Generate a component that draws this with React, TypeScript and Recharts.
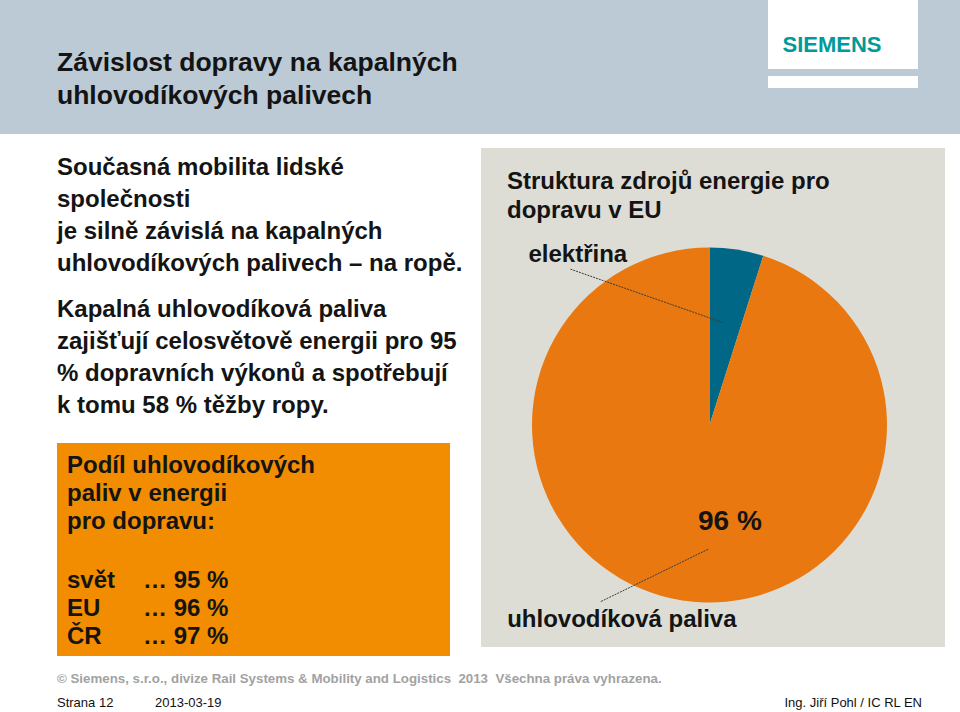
import { PieChart, Pie, Cell } from 'recharts';

// ---------------------------------------------------------------------------
// Data
// ---------------------------------------------------------------------------

const SOURCES = ['elektřina', 'uhlovodíková paliva'];
const SHARES = [4.9, 95.1];
const SHARE_LABEL = '96 %';
const COLORS = ['#006787', '#e8780f'];

const pieData = SOURCES.map((name, i) => ({ name, value: SHARES[i] }));

const REGIONS = ['svět', 'EU', 'ČR'];
const REGION_SHARES = ['95 %', '96 %', '97 %'];

const FONT = '"Liberation Sans", Arial, sans-serif';
const INK = '#141414';

// ---------------------------------------------------------------------------
// Pie labels (placed relative to the pie geometry)
// ---------------------------------------------------------------------------

const RAD = Math.PI / 180;

interface LabelProps {
  cx: number;
  cy: number;
  midAngle: number;
  outerRadius: number;
  index: number;
  name: string;
}

function SliceLabel({ cx, cy, midAngle, outerRadius: r, index, name }: LabelProps) {
  const lineStyle = { stroke: '#3a3a3a', strokeWidth: 1, strokeDasharray: '2 1' };
  const textStyle = { fontFamily: FONT, fontWeight: 700, fontSize: 24, fill: INK };
  if (index === 0) {
    const ix = cx + 0.585 * r * Math.cos(midAngle * RAD);
    const iy = cy - 0.585 * r * Math.sin(midAngle * RAD);
    return (
      <g>
        <line x1={ix - 3} y1={iy} x2={cx - 0.786 * r} y2={cy - 0.879 * r} style={lineStyle} />
        <text x={cx - 1.02 * r} y={cy - 0.92 * r} textAnchor="start" style={textStyle}>
          {name}
        </text>
      </g>
    );
  }
  return (
    <g>
      <text x={cx + 0.115 * r} y={cy + 0.59 * r} textAnchor="middle" style={{ ...textStyle, fontSize: 28 }}>
        {SHARE_LABEL}
      </text>
      <line x1={cx - 0.008 * r} y1={cy + 0.7 * r} x2={cx - 0.617 * r} y2={cy + 0.997 * r} style={lineStyle} />
      <text x={cx - 1.14 * r} y={cy + 1.14 * r} textAnchor="start" style={textStyle}>
        {name}
      </text>
    </g>
  );
}

// ---------------------------------------------------------------------------
// Slide
// ---------------------------------------------------------------------------

export default function App() {
  const txt = { fontFamily: FONT, fontWeight: 700, color: INK };
  return (
    <div style={{ position: 'absolute', left: 0, top: 0, width: 960, height: 712, background: '#fff', overflow: 'hidden' }}>
      {/* header */}
      <div style={{ position: 'absolute', left: 0, top: 0, width: 960, height: 134, background: '#bccad6' }} />
      <div style={{ position: 'absolute', left: 768, top: 0, width: 150, height: 69, background: '#fff' }} />
      <div style={{ position: 'absolute', left: 768, top: 76, width: 150, height: 12, background: '#fff' }} />
      <div
        style={{
          position: 'absolute', left: 776, top: 32, width: 112, textAlign: 'center',
          fontFamily: FONT, fontWeight: 700, fontSize: 22, lineHeight: '26px', color: '#009a9a',
        }}
      >
        SIEMENS
      </div>
      <div style={{ ...txt, position: 'absolute', left: 57, top: 45.5, fontSize: 26.5, lineHeight: '33px' }}>
        Závislost dopravy na kapalných
        <br />
        uhlovodíkových palivech
      </div>

      {/* left text */}
      <div style={{ ...txt, position: 'absolute', left: 57, top: 151, fontSize: 24, lineHeight: '32px' }}>
        Současná mobilita lidské
        <br />
        společnosti
        <br />
        je silně závislá na kapalných
        <br />
        uhlovodíkových palivech – na ropě.
      </div>
      <div style={{ ...txt, position: 'absolute', left: 57, top: 293, fontSize: 24, lineHeight: '32px' }}>
        Kapalná uhlovodíková paliva
        <br />
        zajišťují celosvětově energii pro 95
        <br />
        % dopravních výkonů a spotřebují
        <br />
        k tomu 58 % těžby ropy.
      </div>

      {/* orange box */}
      <div
        style={{
          ...txt, position: 'absolute', left: 57, top: 443, width: 393, height: 213,
          background: '#f28c00', boxSizing: 'border-box', padding: '8px 0 0 10px',
          fontSize: 24, lineHeight: '28px',
        }}
      >
        Podíl uhlovodíkových
        <br />
        paliv v energii
        <br />
        pro dopravu:
        <div style={{ height: 31 }} />
        {REGIONS.map((r, i) => (
          <div key={r}>
            <span style={{ display: 'inline-block', width: 76 }}>{r}</span>… {REGION_SHARES[i]}
          </div>
        ))}
      </div>

      {/* pie panel */}
      <div style={{ position: 'absolute', left: 481, top: 148, width: 464, height: 499, background: '#ddddd6' }}>
        <div style={{ ...txt, position: 'absolute', left: 26, top: 17.5, fontSize: 24, lineHeight: '29px' }}>
          Struktura zdrojů energie pro
          <br />
          dopravu v EU
        </div>
        <PieChart width={464} height={499} margin={{ top: 0, right: 0, bottom: 0, left: 0 }} style={{ position: 'absolute', left: 0, top: 0 }}>
          <Pie
            data={pieData}
            dataKey="value"
            nameKey="name"
            cx={228.5}
            cy={277}
            outerRadius={177.5}
            startAngle={90}
            endAngle={-270}
            stroke="none"
            label={SliceLabel as any}
            labelLine={false}
            isAnimationActive={false}
          >
            {pieData.map((d, i) => (
              <Cell key={d.name} fill={COLORS[i]} />
            ))}
          </Pie>
        </PieChart>
      </div>

      {/* footer */}
      <div style={{ position: 'absolute', left: 57, top: 670, fontFamily: FONT, fontWeight: 700, fontSize: 13.3, lineHeight: '18px', color: '#a2a2a2', whiteSpace: 'pre' }}>
        {'© Siemens, s.r.o., divize Rail Systems & Mobility and Logistics  2013  Všechna práva vyhrazena.'}
      </div>
      <div style={{ position: 'absolute', left: 57, top: 694, fontFamily: FONT, fontSize: 13, lineHeight: '18px', color: '#111' }}>
        Strana 12
      </div>
      <div style={{ position: 'absolute', left: 155, top: 694, fontFamily: FONT, fontSize: 13, lineHeight: '18px', color: '#111' }}>
        2013-03-19
      </div>
      <div style={{ position: 'absolute', right: 38, top: 694, fontFamily: FONT, fontSize: 13, lineHeight: '18px', color: '#111' }}>
        Ing. Jiří Pohl / IC RL EN
      </div>
    </div>
  );
}
